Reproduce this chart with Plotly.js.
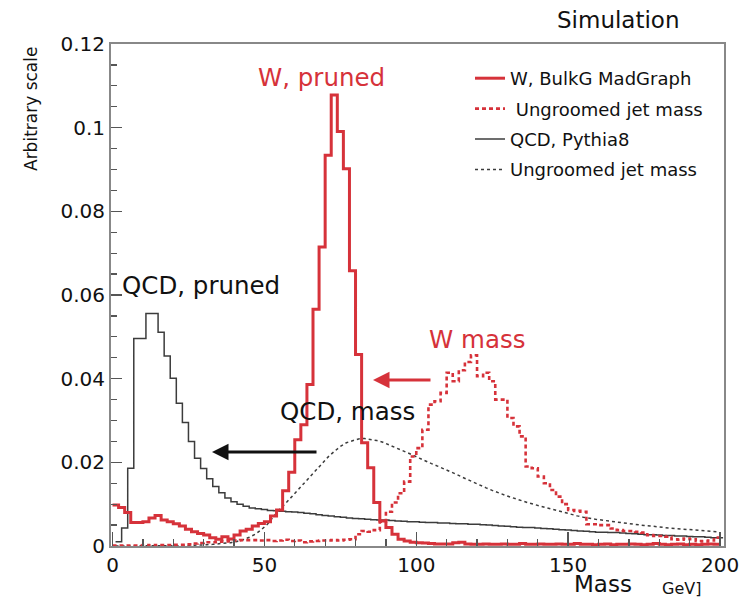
<!DOCTYPE html>
<html>
<head>
<meta charset="utf-8">
<script src="https://cdn.plot.ly/plotly-3.0.1.min.js"></script>
<style>
  html, body { margin: 0; padding: 0; background: #fff; }
  #chart { width: 750px; height: 600px; }
</style>
</head>
<body>
<div id="chart"></div>
<script>
// ---------------- data ----------------
const binWidth = 2;            // GeV per histogram bin
const wBinStart = 0;           // lower edge of first W bin (GeV)
const qcdBinStart = 1;         // lower edge of first QCD pruned bin (GeV)

// W, BulkG MadGraph - pruned jet mass (2 GeV bins, 0..200)
const wPruned = [
  0.0098,0.0092,0.0080,0.0056,0.0056,0.0058,0.0067,0.0073,0.0062,0.0058,
  0.0053,0.0048,0.0040,0.0034,0.0030,0.0026,0.0020,0.0016,0.0022,0.0017,
  0.0026,0.0036,0.0040,0.0048,0.0054,0.0058,0.0072,0.0086,0.0132,0.0176,
  0.0254,0.0290,0.0386,0.0566,0.0715,0.0934,0.1078,0.0991,0.0902,0.0658,
  0.0458,0.0247,0.0187,0.0104,0.0060,0.0044,0.0028,0.0016,0.0012,0.0009,
  0.0008,0.0007,0.0006,0.0005,0.0005,0.0005,0.0008,0.0009,0.0005,0.0004,
  0.0004,0.0005,0.0004,0.0004,0.0005,0.0004,0.0004,0.0006,0.0004,0.0004,
  0.0005,0.0004,0.0004,0.0005,0.0004,0.0004,0.0006,0.0004,0.0004,0.0003,
  0.0004,0.0005,0.0003,0.0004,0.0004,0.0005,0.0004,0.0003,0.0004,0.0006,
  0.0004,0.0003,0.0004,0.0005,0.0003,0.0004,0.0003,0.0004,0.0005,0.0004
];

// W, ungroomed jet mass (2 GeV bins, 0..200)
const wUngroomed = [
  0.0001,0.0001,0.0001,0.0001,0.0001,0.0002,0.0001,0.0002,0.0002,0.0002,
  0.0003,0.0003,0.0004,0.0006,0.0007,0.0009,0.0009,0.0010,0.0011,0.0012,
  0.0013,0.0014,0.0014,0.0014,0.0013,0.0014,0.0012,0.0013,0.0015,0.0012,
  0.0013,0.0009,0.0011,0.0012,0.0013,0.0013,0.0014,0.0013,0.0015,0.0016,
  0.0028,0.0036,0.0034,0.0038,0.0058,0.0082,0.0104,0.0126,0.0154,0.0214,
  0.0234,0.0278,0.0338,0.0346,0.0366,0.0414,0.0394,0.0420,0.0440,0.0456,
  0.0406,0.0414,0.0394,0.0350,0.0350,0.0306,0.0286,0.0262,0.0190,0.0186,
  0.0166,0.0150,0.0134,0.0118,0.0100,0.0086,0.0084,0.0082,0.0052,0.0052,
  0.0050,0.0050,0.0042,0.0038,0.0036,0.0036,0.0034,0.0032,0.0026,0.0024,
  0.0024,0.0022,0.0016,0.0015,0.0018,0.0016,0.0012,0.0011,0.0013,0.0020
];

// QCD, Pythia8 - pruned jet mass (2 GeV bins, 1..201)
const qcdPruned = [
  0.0010,0.0043,0.0186,0.0496,0.0496,0.0556,0.0556,0.0511,0.0454,0.0401,
  0.0341,0.0295,0.0250,0.0210,0.0185,0.0161,0.0142,0.0127,0.0115,0.0106,
  0.0100,0.0095,0.0091,0.0089,0.0087,0.0085,0.0084,0.0083,0.0082,0.0081,
  0.0080,0.0078,0.0077,0.0075,0.0073,0.0072,0.0070,0.0069,0.0067,0.0066,
  0.0065,0.0064,0.0063,0.0062,0.0062,0.0061,0.0060,0.0059,0.0058,0.0058,
  0.0057,0.0056,0.0056,0.0055,0.0055,0.0054,0.0053,0.0053,0.0052,0.0052,
  0.0051,0.0050,0.0049,0.0048,0.0047,0.0046,0.0045,0.0044,0.0044,0.0043,
  0.0042,0.0041,0.0040,0.0039,0.0038,0.0037,0.0036,0.0035,0.0034,0.0033,
  0.0033,0.0032,0.0032,0.0031,0.0030,0.0029,0.0028,0.0027,0.0027,0.0026,
  0.0025,0.0025,0.0024,0.0024,0.0023,0.0022,0.0022,0.0021,0.0020,0.0020
];

// QCD, ungroomed jet mass (values at bin centres 1,3,...,199 GeV)
const qcdUngroomed = [
  0,0,0,0,0,0,0,0,0,0,
  0.0000,0.0001,0.0001,0.0002,0.0002,0.0003,0.0004,0.0005,0.0006,0.0008,
  0.0011,0.0015,0.0021,0.0028,0.0039,0.0052,0.0070,0.0088,0.0102,0.0118,
  0.0132,0.0150,0.0165,0.0180,0.0198,0.0213,0.0226,0.0238,0.0247,0.0252,
  0.0256,0.0257,0.0255,0.0252,0.0248,0.0242,0.0235,0.0229,0.0223,0.0217,
  0.0210,0.0203,0.0197,0.0191,0.0185,0.0179,0.0172,0.0165,0.0158,0.0151,
  0.0145,0.0139,0.0133,0.0127,0.0122,0.0117,0.0112,0.0107,0.0103,0.0099,
  0.0095,0.0091,0.0087,0.0083,0.0079,0.0075,0.0072,0.0069,0.0066,0.0064,
  0.0062,0.0060,0.0058,0.0056,0.0054,0.0052,0.0050,0.0049,0.0048,0.0046,
  0.0045,0.0043,0.0042,0.0041,0.0040,0.0038,0.0037,0.0036,0.0035,0.0034
];

const legendNames = ["W, BulkG MadGraph", " Ungroomed jet mass", "QCD, Pythia8", "Ungroomed jet mass"];
const xTickVals = [0, 50, 100, 150, 200];
const yTickVals = [0, 0.02, 0.04, 0.06, 0.08, 0.1, 0.12];

// ---------------- helpers ----------------
function histSteps(lowEdge, width, vals) {
  const x = [], y = [];
  vals.forEach((v, i) => { x.push(lowEdge + i * width); y.push(v); });
  x.push(lowEdge + vals.length * width);
  y.push(vals[vals.length - 1]);
  return { x, y };
}
const centres = qcdUngroomed.map((_, i) => wBinStart + binWidth * (i + 0.5));

const RED = '#d6323a';
const DARK = '#3c3c3c';
const FONT = 'DejaVu Sans, Open Sans, sans-serif';

const sWP = histSteps(wBinStart, binWidth, wPruned);
const sWU = histSteps(wBinStart, binWidth, wUngroomed);
const sQP = histSteps(qcdBinStart, binWidth, qcdPruned);

const traces = [
  { x: centres, y: qcdUngroomed, type: 'scatter', mode: 'lines', name: legendNames[3],
    legendrank: 4, legendgroup: 'd',
    line: { color: DARK, width: 1.5, dash: '3px,3px' } },
  { x: sQP.x, y: sQP.y, type: 'scatter', mode: 'lines', name: legendNames[2],
    legendrank: 3, legendgroup: 'c',
    line: { color: DARK, width: 1.5, shape: 'hv' } },
  { x: sWU.x, y: sWU.y, type: 'scatter', mode: 'lines', name: legendNames[1],
    legendrank: 2, legendgroup: 'b',
    line: { color: RED, width: 2.6, dash: '4px,3px', shape: 'hv' } },
  { x: sWP.x, y: sWP.y, type: 'scatter', mode: 'lines', name: legendNames[0],
    legendrank: 1, legendgroup: 'a',
    line: { color: RED, width: 3, shape: 'hv' } }
];

// paper coordinates helpers (plot area: x 111..724, y 44..546)
const px = v => (v - 111) / 613;
const py = v => (546 - v) / 502;

function label(text, x, y, size, color, extra) {
  return Object.assign({ text, xref: 'paper', yref: 'paper', x: px(x), y: py(y),
    xanchor: 'center', yanchor: 'middle', showarrow: false, borderpad: 0,
    font: { family: FONT, size, color } }, extra || {});
}

const layout = {
  width: 750, height: 600,
  margin: { l: 111, r: 26, t: 44, b: 54 },
  paper_bgcolor: '#fff', plot_bgcolor: '#fff',
  font: { family: FONT, color: '#111' },
  showlegend: true,
  legend: {
    x: px(470), y: py(60), xanchor: 'left', yanchor: 'top',
    bgcolor: 'rgba(0,0,0,0)', borderwidth: 0,
    font: { family: FONT, size: 18, color: '#111' },
    traceorder: 'grouped', tracegroupgap: 4
  },
  xaxis: {
    range: [-0.5, 201.3], tickvals: xTickVals, ticks: 'inside', ticklen: 14,
    tickcolor: '#555', tickwidth: 1.5,
    minor: { dtick: 10, ticks: 'inside', ticklen: 7, tickcolor: '#555', tickwidth: 1.2 },
    showgrid: false, zeroline: false,
    showline: true, mirror: true, linecolor: '#888', linewidth: 2,
    tickfont: { family: FONT, size: 20, color: '#111' }
  },
  yaxis: {
    range: [0, 0.12], tickvals: yTickVals, ticks: 'inside', ticklen: 11,
    tickcolor: '#555', tickwidth: 1.5,
    minor: { dtick: 0.005, ticks: 'inside', ticklen: 6, tickcolor: '#555', tickwidth: 1.2 },
    showgrid: false, zeroline: false,
    showline: true, mirror: true, linecolor: '#888', linewidth: 2,
    tickfont: { family: FONT, size: 20, color: '#111' }
  },
  annotations: [
    label('W, pruned', 321, 77, 24.5, RED),
    label('QCD, pruned', 201, 285, 24.5, '#111'),
    label('W mass', 477, 340, 24.5, RED),
    label('QCD, mass', 347, 411, 24.5, '#111'),
    label('Simulation', 618, 20, 23, '#111'),
    label('Arbitrary scale', 31, 109, 17, '#111', { textangle: -90 }),
    label('Mass', 603, 584, 23, '#111'),
    label('GeV]', 681, 588, 16, '#111'),
    // arrows
    { text: '', xref: 'paper', yref: 'paper', x: px(373), y: py(380), ax: 59, ay: 0,
      showarrow: true, arrowhead: 2, arrowsize: 1.1, arrowwidth: 3, arrowcolor: RED },
    { text: '', xref: 'paper', yref: 'paper', x: px(212), y: py(452), ax: 106, ay: 0,
      showarrow: true, arrowhead: 2, arrowsize: 1.1, arrowwidth: 3, arrowcolor: '#111' }
  ]
};

Plotly.newPlot('chart', traces, layout, { displayModeBar: false, staticPlot: true });
</script>
</body>
</html>
